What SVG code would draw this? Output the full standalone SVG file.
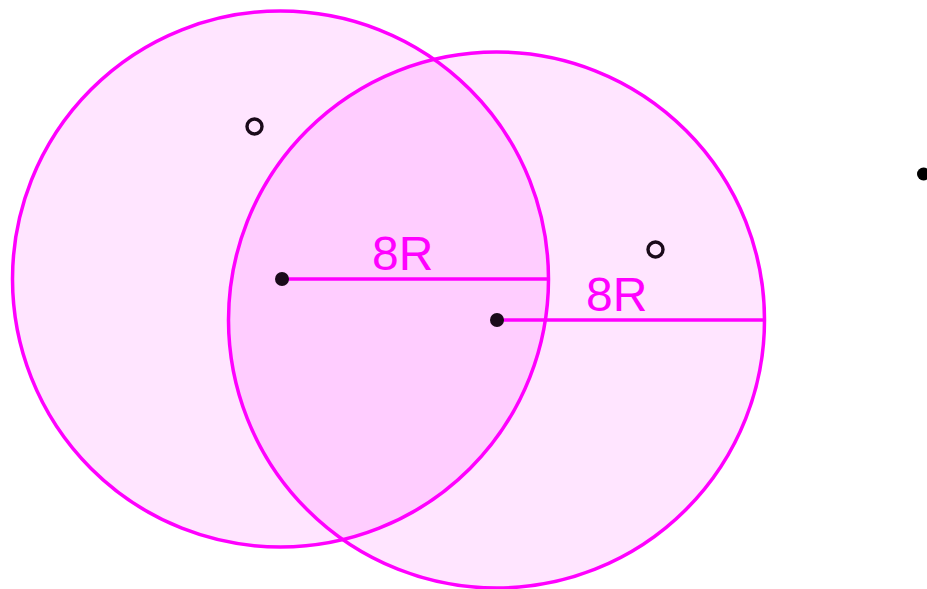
<svg xmlns="http://www.w3.org/2000/svg" width="927" height="589" viewBox="0 0 927 589">
<style>
.disk{fill:#ff00ff;fill-opacity:0.1;stroke:#ff00ff;stroke-width:3.5}
.rad{stroke:#ff00ff;stroke-width:3.5;fill:none}
.ctr{fill:#1a0a1a}
.open{fill:none;stroke:#1a0a1a;stroke-width:3.4}
.lbl{font-family:"Liberation Sans",Arial,sans-serif;font-size:48px;fill:#ff00ff}
</style>
<rect width="927" height="589" fill="#ffffff"/>
<g id="circle1">
<circle class="disk" cx="280.5" cy="279" r="268"/>
</g>
<g id="circle2">
<circle class="disk" cx="496.5" cy="320" r="268"/>
</g>
<g id="connectors">
<line class="rad" x1="282" y1="279" x2="548" y2="279"/>
<line class="rad" x1="497" y1="320" x2="764" y2="320"/>
</g>
<g id="labels">
<text class="lbl" x="372" y="270">8R</text>
<text class="lbl" x="586" y="311">8R</text>
</g>
<g id="points">
<circle class="ctr" cx="282" cy="279" r="7"/>
<circle class="ctr" cx="497" cy="320" r="7"/>
<circle class="open" cx="254.5" cy="126.5" r="7.5"/>
<circle class="open" cx="655.5" cy="249.5" r="7.5"/>
<circle fill="#000000" cx="923.5" cy="174" r="6.5"/>
</g>
</svg>
